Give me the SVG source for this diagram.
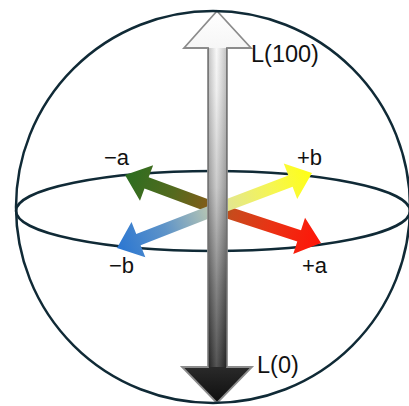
<svg xmlns="http://www.w3.org/2000/svg" width="409" height="406" viewBox="0 0 409 406">
  <style>
    .outline { fill: none; stroke: #102a36; stroke-width: 2.5; }
    .lbl { font-family: "Liberation Sans", Arial, sans-serif; fill: #111; }
    .axis-lbl { font-size: 22px; }
    .l-lbl { font-size: 23.5px; }
  </style>
  <defs>
    <linearGradient id="gradA" gradientUnits="userSpaceOnUse" x1="125" y1="175" x2="321" y2="243">
      <stop offset="0" stop-color="#2b6e20"/>
      <stop offset="0.25" stop-color="#546a1e"/>
      <stop offset="0.46" stop-color="#8b5a18"/>
      <stop offset="0.55" stop-color="#c84a1c"/>
      <stop offset="0.75" stop-color="#ea3214"/>
      <stop offset="1" stop-color="#ff1408"/>
    </linearGradient>
    <linearGradient id="gradB" gradientUnits="userSpaceOnUse" x1="117" y1="248" x2="312" y2="173">
      <stop offset="0" stop-color="#2a76d2"/>
      <stop offset="0.25" stop-color="#5f94c8"/>
      <stop offset="0.47" stop-color="#b4c4b4"/>
      <stop offset="0.56" stop-color="#e2e692"/>
      <stop offset="0.8" stop-color="#f6f650"/>
      <stop offset="1" stop-color="#ffff14"/>
    </linearGradient>
    <linearGradient id="gradL" gradientUnits="userSpaceOnUse" x1="0" y1="11" x2="0" y2="403">
      <stop offset="0" stop-color="#ffffff"/>
      <stop offset="0.2" stop-color="#ececec"/>
      <stop offset="0.45" stop-color="#bdbdbd"/>
      <stop offset="0.7" stop-color="#686868"/>
      <stop offset="1" stop-color="#0e0e0e"/>
    </linearGradient>
    <linearGradient id="shade" gradientUnits="userSpaceOnUse" x1="208" y1="0" x2="227" y2="0">
      <stop offset="0" stop-color="#000" stop-opacity="0.22"/>
      <stop offset="0.45" stop-color="#fff" stop-opacity="0.2"/>
      <stop offset="1" stop-color="#000" stop-opacity="0.22"/>
    </linearGradient>
  </defs>

  <g id="equator">
    <ellipse class="outline" cx="213" cy="211" rx="197" ry="40"/>
  </g>

  <g id="connectors">
    <polygon id="arrow-minus-a" fill="url(#gradA)" points="219.08,203.37 148.65,177.34 153.16,165.15 125,175 139.98,200.79 144.49,188.60 214.92,214.63"/>
    <polygon id="arrow-plus-a" fill="url(#gradA)" points="215.14,214.70 297.28,241.55 293.24,253.91 321,243 305.04,217.79 301.0,230.15 218.86,203.30"/>
    <polygon id="arrow-plus-b" fill="url(#gradB)" points="219.13,214.61 292.62,186.76 297.22,198.92 312,173 283.76,163.38 288.36,175.54 214.87,203.39"/>
    <polygon id="arrow-minus-b" fill="url(#gradB)" points="214.82,203.41 136.25,234.05 131.53,221.94 117,248 145.33,257.34 140.61,245.23 219.18,214.59"/>
  </g>

  <g id="lightness-axis">
    <polygon fill="url(#gradL)" stroke="#8c8c8c" stroke-width="1.8" stroke-linejoin="miter"
      points="217,11 251,48 227,48 227,367 252,367 217,403 182,367 208,367 208,48 184,48"/>
    <rect x="208" y="48" width="19" height="319" fill="url(#shade)"/>
  </g>

  <g id="sphere">
    <ellipse class="outline" cx="213" cy="207" rx="197" ry="196"/>
  </g>

  <g id="labels">
    <g id="label-L100"><text class="lbl l-lbl" x="251" y="62">L(100)</text></g>
    <g id="label-L0"><text class="lbl l-lbl" x="257" y="373">L(0)</text></g>
    <g id="label-minus-a"><text class="lbl axis-lbl" x="104" y="165">−a</text></g>
    <g id="label-plus-b"><text class="lbl axis-lbl" x="297" y="165">+b</text></g>
    <g id="label-minus-b"><text class="lbl axis-lbl" x="109" y="273">−b</text></g>
    <g id="label-plus-a"><text class="lbl axis-lbl" x="302" y="273">+a</text></g>
  </g>
</svg>
